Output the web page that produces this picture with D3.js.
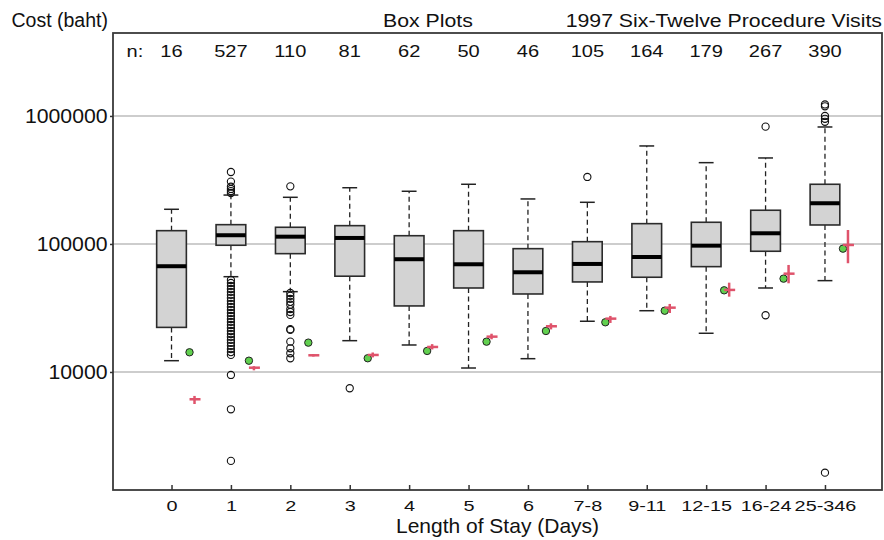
<!DOCTYPE html>
<html>
<head>
<meta charset="utf-8">
<script src="https://cdn.jsdelivr.net/npm/d3@7"></script>
<style>
  html, body { margin: 0; padding: 0; background: #fff; }
  svg { display: block; }
  text { font-family: "Liberation Sans", Arial, Helvetica, sans-serif; fill: #111; }
</style>
</head>
<body>
<svg id="chart" width="884" height="540"></svg>
<script>
// Length-of-stay groups and visit counts
const categories = ["0", "1", "2", "3", "4", "5", "6", "7-8", "9-11", "12-15", "16-24", "25-346"];
const counts = [16, 527, 110, 81, 62, 50, 46, 105, 164, 179, 267, 390];

// Five-number summaries of cost (baht)
const whiskerLow  = [12250, 55500, 42400, 17560, 16250, 10740, 12700, 24900, 30100, 20060, 45300, 51700];
const quartile1   = [22300, 97700, 84000, 56000, 32800, 45300, 40670, 50500, 54950, 66500, 87700, 140700];
const medians     = [67000, 117000, 114000, 111400, 76000, 69400, 60100, 69800, 79100, 97000, 121200, 208000];
const quartile3   = [127000, 141500, 135000, 139000, 116000, 127000, 91900, 104200, 144100, 147700, 183400, 292600];
const whiskerHigh = [186600, 241000, 231500, 275000, 258000, 292600, 224700, 211600, 583000, 431700, 469700, 820000];

// Points beyond the whiskers
const outliers = [
  [],
  [365000, 307000, 280000, 269000, 259000, 250000,
   52300, 49600, 47000, 44500, 42200, 40000, 37900, 35900, 34000, 32200, 30500, 28900,
   27400, 25900, 24600, 23300, 22100, 20900, 19800, 18800, 17800, 16900, 16000, 15100,
   14300, 13600, 9480, 5110, 2020],
  [282000, 41400, 39300, 37200, 35300, 33500, 31000, 29400, 27900, 21600, 21300,
   17250, 15310, 14000, 12800],
  [7460],
  [],
  [],
  [],
  [333700],
  [],
  [],
  [825000, 27730],
  [1230000, 1190000, 1000000, 950000, 900000, 1634]
];

// Group means (green dots)
const means = [14250, 12250, 16950, 12800, 14600, 17250, 20900, 24450, 30100, 43450, 53600, 91900];

// Second estimate with its interval (red marks)
const estCenter = [6120, 10800, 13500, 13580, 15680, 18880, 22750, 26100, 31800, 43750, 58600, 98200];
const estLow    = [5620, 10300, 13200, 13000, 15000, 18000, 21500, 24150, 28900, 38760, 49300, 70700];
const estHigh   = [6500, 11100, 13800, 14200, 16500, 19900, 24000, 27400, 34000, 49850, 68550, 128600];

const yTicks = [10000, 100000, 1000000];

// ---- layout ----
const plot = { left: 113, right: 882, top: 33, bottom: 490 };
const svg = d3.select("#chart");

const x = d3.scaleLinear().domain([-0.985, 11.96]).range([plot.left, plot.right]);
const y = d3.scaleLog().domain([Math.pow(10, 3.078), Math.pow(10, 6.648)]).range([plot.bottom, plot.top]);

const step = x(1) - x(0);
const boxW = step * 0.5;
const capW = boxW * 0.5;

// horizontal grid lines
svg.append("g").selectAll("line").data(yTicks).join("line")
  .attr("x1", plot.left).attr("x2", plot.right)
  .attr("y1", d => y(d)).attr("y2", d => y(d))
  .attr("stroke", "#bdbdbd").attr("stroke-width", 1.5);

const idx = d3.range(categories.length);

// whiskers
const wg = svg.append("g");
wg.selectAll("line.up").data(idx).join("line").attr("class", "up")
  .attr("x1", i => x(i)).attr("x2", i => x(i))
  .attr("y1", i => y(quartile3[i])).attr("y2", i => y(whiskerHigh[i]))
  .attr("stroke", "#222").attr("stroke-width", 1.3).attr("stroke-dasharray", "5,3.5");
wg.selectAll("line.down").data(idx).join("line").attr("class", "down")
  .attr("x1", i => x(i)).attr("x2", i => x(i))
  .attr("y1", i => y(quartile1[i])).attr("y2", i => y(whiskerLow[i]))
  .attr("stroke", "#222").attr("stroke-width", 1.3).attr("stroke-dasharray", "5,3.5");
wg.selectAll("line.capHi").data(idx).join("line").attr("class", "capHi")
  .attr("x1", i => x(i) - capW / 2).attr("x2", i => x(i) + capW / 2)
  .attr("y1", i => y(whiskerHigh[i])).attr("y2", i => y(whiskerHigh[i]))
  .attr("stroke", "#222").attr("stroke-width", 1.5);
wg.selectAll("line.capLo").data(idx).join("line").attr("class", "capLo")
  .attr("x1", i => x(i) - capW / 2).attr("x2", i => x(i) + capW / 2)
  .attr("y1", i => y(whiskerLow[i])).attr("y2", i => y(whiskerLow[i]))
  .attr("stroke", "#222").attr("stroke-width", 1.5);

// boxes and medians
svg.append("g").selectAll("rect").data(idx).join("rect")
  .attr("x", i => x(i) - boxW / 2).attr("width", boxW)
  .attr("y", i => y(quartile3[i])).attr("height", i => y(quartile1[i]) - y(quartile3[i]))
  .attr("fill", "#d3d3d3").attr("stroke", "#2b2b2b").attr("stroke-width", 1.6);
svg.append("g").selectAll("line").data(idx).join("line")
  .attr("x1", i => x(i) - boxW / 2).attr("x2", i => x(i) + boxW / 2)
  .attr("y1", i => y(medians[i])).attr("y2", i => y(medians[i]))
  .attr("stroke", "#000").attr("stroke-width", 4);

// outliers
const outPts = idx.flatMap(i => outliers[i].map(v => ({ i, v })));
svg.append("g").selectAll("circle").data(outPts).join("circle")
  .attr("cx", d => x(d.i)).attr("cy", d => y(d.v)).attr("r", 3.6)
  .attr("fill", "none").attr("stroke", "#111").attr("stroke-width", 1.1);

// means
svg.append("g").selectAll("circle").data(idx).join("circle")
  .attr("cx", i => x(i) + 18).attr("cy", i => y(means[i])).attr("r", 3.7)
  .attr("fill", "#61D04F").attr("stroke", "#222").attr("stroke-width", 1);

// red estimate with interval
const rg = svg.append("g").attr("stroke", "#DF536B").attr("stroke-width", 2.5);
rg.selectAll("line.v").data(idx).join("line").attr("class", "v")
  .attr("x1", i => x(i) + 23).attr("x2", i => x(i) + 23)
  .attr("y1", i => y(estLow[i])).attr("y2", i => y(estHigh[i]));
rg.selectAll("line.h").data(idx).join("line").attr("class", "h")
  .attr("x1", i => x(i) + 18).attr("x2", i => x(i) + 29)
  .attr("y1", i => y(estCenter[i])).attr("y2", i => y(estCenter[i]));

// frame
svg.append("rect")
  .attr("x", plot.left).attr("y", plot.top)
  .attr("width", plot.right - plot.left).attr("height", plot.bottom - plot.top)
  .attr("fill", "none").attr("stroke", "#3a3a3a").attr("stroke-width", 1.8);

// y axis
const yAxis = svg.append("g").attr("transform", `translate(${plot.left},0)`)
  .call(d3.axisLeft(y).tickValues(yTicks).tickFormat(d3.format("d"))
        .tickSizeInner(3).tickSizeOuter(0).tickPadding(2));
yAxis.select(".domain").remove();
yAxis.selectAll(".tick line").attr("stroke", "#333").attr("stroke-width", 1.5);
yAxis.selectAll(".tick text")
  .attr("font-size", 19.5).attr("font-family", null).attr("fill", "#111")
  .attr("transform", "scale(1.09,1)");
yAxis.attr("font-family", null).attr("font-size", null);

// x axis (ticks point inward)
const xAxis = svg.append("g").attr("transform", `translate(0,${plot.bottom})`)
  .call(d3.axisBottom(x).tickValues(idx).tickFormat(i => categories[i])
        .tickSizeInner(-5).tickSizeOuter(0).tickPadding(10.5));
xAxis.select(".domain").remove();
xAxis.selectAll(".tick line").attr("stroke", "#333").attr("stroke-width", 1.5);
xAxis.selectAll(".tick text")
  .attr("font-size", 15.5).attr("fill", "#111")
  .attr("transform", "scale(1.28,1)");
xAxis.attr("font-family", null).attr("font-size", null);

// text helper with horizontal stretch
function label(str, px, py, size, sx, anchor) {
  return svg.append("text")
    .attr("transform", `translate(${px},${py}) scale(${sx},1)`)
    .attr("font-size", size).attr("text-anchor", anchor).text(str);
}

label("Cost (baht)", 11.5, 27.3, 19.5, 1, "start");
label("Box Plots", 383, 26.7, 19, 1.12, "start");
label("1997 Six-Twelve Procedure Visits", 882, 26.7, 19, 1.12, "end");
label("Length of Stay (Days)", (plot.left + plot.right) / 2, 533.3, 21, 1, "middle");

// counts row
label("n:", 126.5, 57.3, 17, 1.18, "start");
svg.append("g").selectAll("text").data(idx).join("text")
  .attr("transform", i => `translate(${x(i)},57.3) scale(1.18,1)`)
  .attr("font-size", 17).attr("text-anchor", "middle")
  .text(i => counts[i]);
</script>
</body>
</html>
